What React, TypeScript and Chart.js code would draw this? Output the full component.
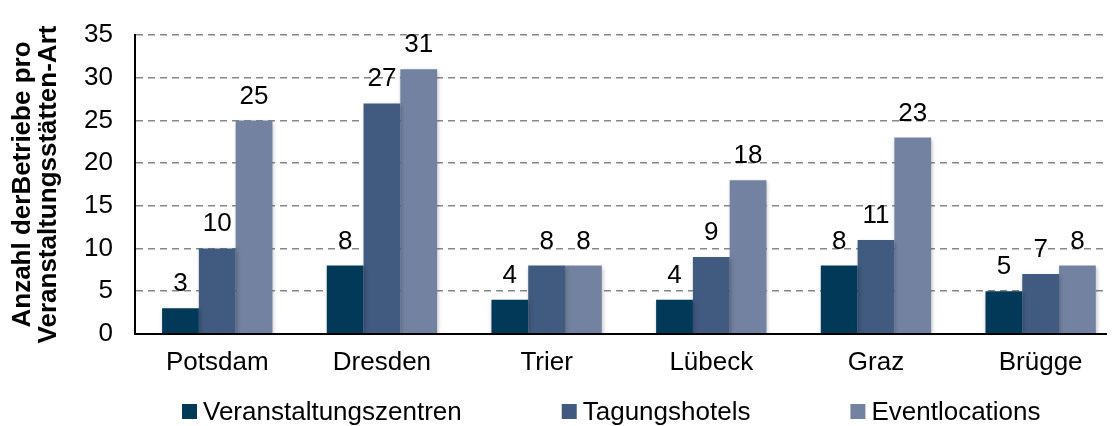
import React, { useEffect, useRef } from "react";
import { Chart, registerables } from "chart.js";

Chart.register(...registerables);

const categories = ["Potsdam", "Dresden", "Trier", "Lübeck", "Graz", "Brügge"];
const seriesNames = ["Veranstaltungszentren", "Tagungshotels", "Eventlocations"];
const veranstaltungszentren = [3, 8, 4, 4, 8, 5];
const tagungshotels = [10, 27, 8, 9, 11, 7];
const eventlocations = [25, 31, 8, 18, 23, 8];
const colors = ["#023858", "#415A80", "#7282A0"];
const yTitle = ["Anzahl derBetriebe pro", "Veranstaltungsstätten-Art"];

const FONT = "'Liberation Sans', Arial, sans-serif";
const FS = 26;

const barShadow = {
  id: "barShadow",
  beforeDatasetsDraw(chart: any) {
    chart.ctx.save();
    chart.ctx.shadowColor = "rgba(0,0,0,0.25)";
    chart.ctx.shadowBlur = 4;
    chart.ctx.shadowOffsetX = 1;
    chart.ctx.shadowOffsetY = 2;
  },
  afterDatasetsDraw(chart: any) {
    chart.ctx.restore();
  },
};

const valueLabels = {
  id: "valueLabels",
  afterDatasetsDraw(chart: any) {
    const ctx = chart.ctx;
    ctx.save();
    ctx.font = `${FS}px ${FONT}`;
    ctx.fillStyle = "#000";
    ctx.textAlign = "center";
    ctx.textBaseline = "alphabetic";
    chart.data.datasets.forEach((ds: any, i: number) => {
      const meta = chart.getDatasetMeta(i);
      meta.data.forEach((bar: any, j: number) => {
        ctx.fillText(String(ds.data[j]), bar.x, bar.y - 17);
      });
    });
    ctx.restore();
  },
};

const customLegend = {
  id: "customLegend",
  afterDraw(chart: any) {
    const ctx = chart.ctx;
    ctx.save();
    ctx.font = `${FS}px ${FONT}`;
    const box = 15;
    const boxGap = 6;
    const itemGap = 100;
    let x = 174;
    const cy = 403.5;
    seriesNames.forEach((n, i) => {
      ctx.fillStyle = colors[i];
      ctx.fillRect(x, cy - box / 2, box, box);
      ctx.fillStyle = "#000";
      ctx.textBaseline = "middle";
      ctx.textAlign = "left";
      ctx.fillText(n, x + box + boxGap, cy + 1);
      x += box + boxGap + ctx.measureText(n).width + itemGap;
    });
    ctx.restore();
  },
};

export default function App() {
  const ref = useRef<HTMLCanvasElement>(null);
  useEffect(() => {
    if (!ref.current) return;
    const chart = new Chart(ref.current, {
      type: "bar",
      data: {
        labels: categories,
        datasets: [veranstaltungszentren, tagungshotels, eventlocations].map((d, i) => ({
          label: seriesNames[i],
          data: d,
          backgroundColor: colors[i],
          categoryPercentage: 0.67,
          barPercentage: 1,
        })),
      },
      options: {
        animation: false,
        responsive: false,
        layout: { padding: { left: 2, right: 0, top: -2, bottom: 35 } },
        plugins: {
          legend: { display: false },
          tooltip: { enabled: false },
        },
        scales: {
          x: {
            grid: { display: false, drawTicks: false },
            border: { display: true, color: "#000", width: 2 },
            ticks: { color: "#000", font: { family: FONT, size: FS }, padding: 13 },
          },
          y: {
            min: 0,
            max: 35,
            ticks: { stepSize: 5, color: "#000", font: { family: FONT, size: FS, lineHeight: 0.4 }, padding: 22 },
            grid: {
              color: (c: any) => (c.tick && c.tick.value === 0 ? "rgba(0,0,0,0)" : "#888"),
              lineWidth: 1.5,
              drawTicks: false,
            },
            border: { display: true, color: "#000", width: 2, dash: [7, 5] as any },
            title: {
              display: true,
              text: yTitle,
              color: "#000",
              font: { family: FONT, size: FS, weight: "bold", lineHeight: 1.0 },
              padding: { top: 0, bottom: 0 },
            },
          },
        },
      },
      plugins: [barShadow, valueLabels, customLegend],
    } as any);
    return () => chart.destroy();
  }, []);
  return (
    <div style={{ width: 1107, height: 418, overflow: "hidden" }}>
      <canvas ref={ref} width={1115} height={418} style={{ display: "block" }} />
    </div>
  );
}
